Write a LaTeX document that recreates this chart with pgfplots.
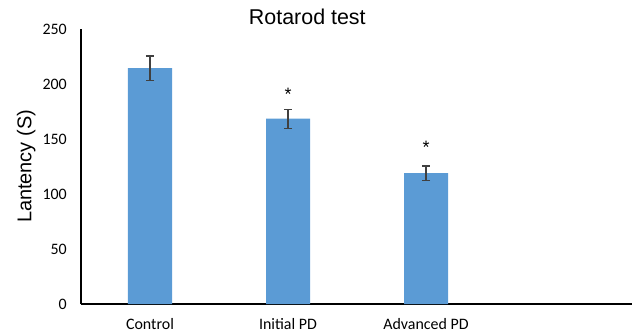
\documentclass[border=0pt]{standalone}
\usepackage{fontspec}
\setmainfont{Carlito}
\newfontfamily\arial{Liberation Sans}
\usepackage{pgfplots}
\pgfplotsset{compat=1.18}
\definecolor{barblue}{HTML}{5B9BD5}
\definecolor{errgray}{HTML}{404040}
\begin{document}
\begin{tikzpicture}
\begin{axis}[
  scale only axis,
  width=552bp, height=275bp,
  xmin=-0.5, xmax=3.5,
  ymin=0, ymax=250,
  ytick={0,50,...,250},
  xtick={0,1,2},
  xticklabels={Control,Initial PD,Advanced PD},
  axis x line=bottom, axis y line=left,
  axis line style={-, black, line width=1.5bp},
  major tick length=0pt,
  /pgf/number format/assume math mode=true,
  ticklabel style={font=\fontsize{16}{16}\selectfont},
  yticklabel style={inner sep=0pt, xshift=-14bp},
  xticklabel style={inner sep=0pt, anchor=north, yshift=-14.5bp},
  title={\arial Rotarod test},
  title style={font=\fontsize{21.5}{21.5}\selectfont, anchor=base, at={(axis description cs:0.41,0.996)}, inner sep=0pt},
  ylabel={\arial Lantency (S)},
  ylabel style={font=\fontsize{20}{20}\selectfont, rotate=0, anchor=base, inner sep=0pt, at={(axis description cs:-0.0897,0.5)}},
  clip=false,
]
\addplot+[ybar, bar width=44bp, fill=barblue, draw=none, mark=none,
  error bars/.cd, y dir=both, y explicit,
  error bar style={color=errgray, line width=1.2bp},
  error mark options={rotate=90, mark size=4bp, line width=1.2bp, color=errgray}]
  coordinates {(0,214.5) +- (0,11) (1,168.5) +- (0,8.6) (2,119) +- (0,6.4)};
\node[font=\arial\fontsize{18}{18}\selectfont, inner sep=0pt] at (axis cs:1,190.5) {*};
\node[font=\arial\fontsize{18}{18}\selectfont, inner sep=0pt] at (axis cs:2,142.5) {*};
\end{axis}
\pgfresetboundingbox
\useasboundingbox (-81bp,-29bp) rectangle (551bp,304bp);
\end{tikzpicture}
\end{document}
